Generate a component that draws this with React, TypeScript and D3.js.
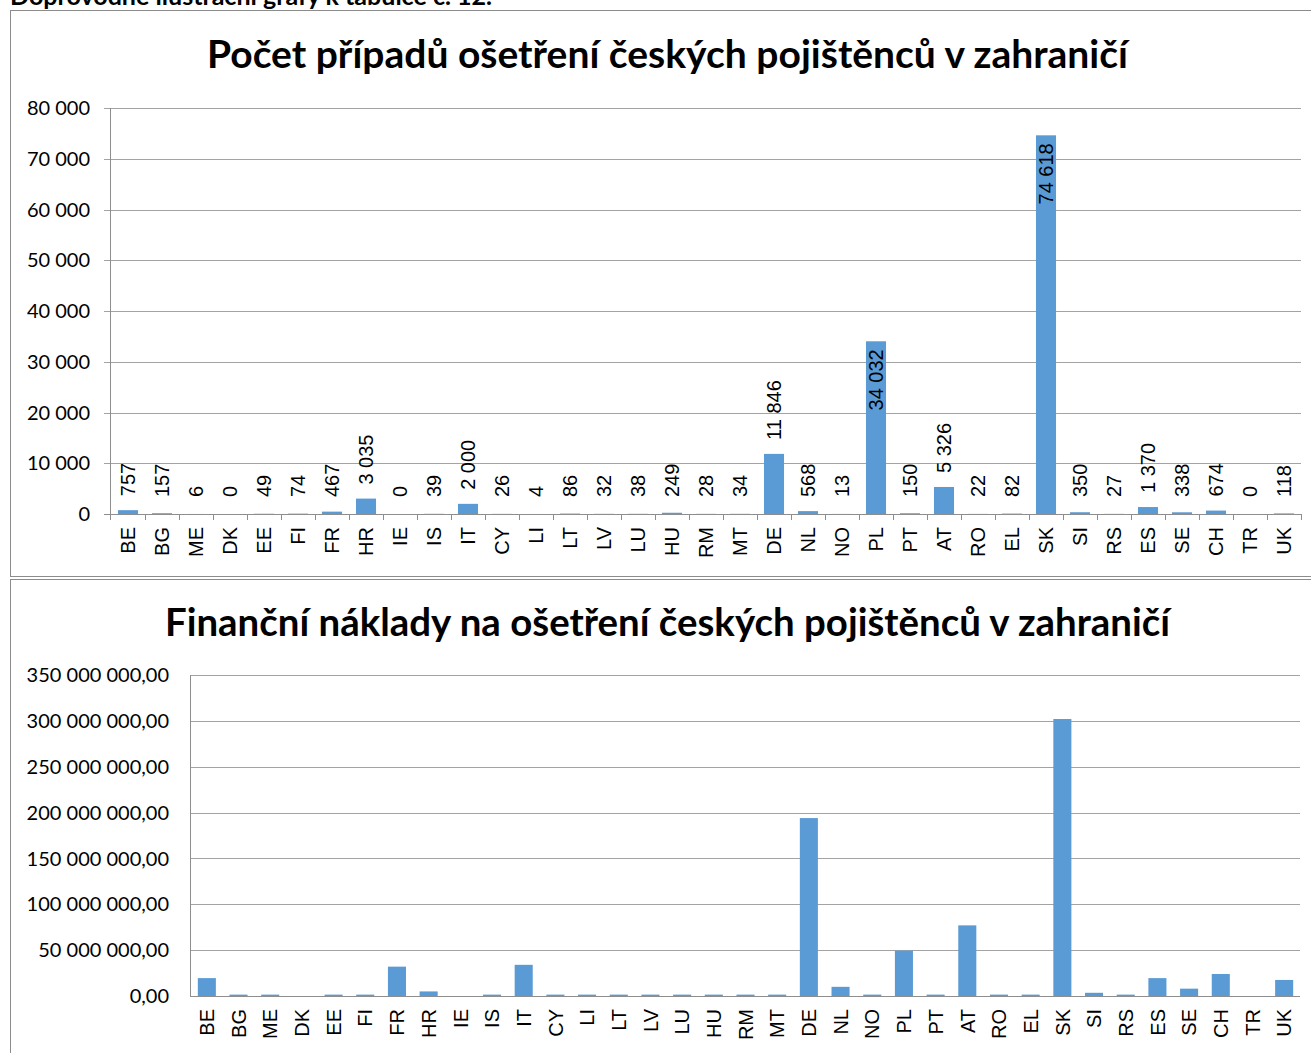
import React from "react";
import * as d3 from "d3";

const categories = ["BE","BG","ME","DK","EE","FI","FR","HR","IE","IS","IT","CY","LI","LT","LV","LU","HU","RM","MT","DE","NL","NO","PL","PT","AT","RO","EL","SK","SI","RS","ES","SE","CH","TR","UK"];

const caseCounts = [757,157,6,0,49,74,467,3035,0,39,2000,26,4,86,32,38,249,28,34,11846,568,13,34032,150,5326,22,82,74618,350,27,1370,338,674,0,118];

const costs = [19500000,1500000,1500000,0,1500000,1500000,32000000,5000000,0,1500000,34000000,1500000,1500000,1500000,1500000,1500000,1500000,1500000,1500000,194000000,10000000,1500000,49500000,1500000,77000000,1500000,1500000,302000000,3500000,1500000,19500000,8000000,24000000,0,17500000];

const countTicks = [0,10000,20000,30000,40000,50000,60000,70000,80000];
const costTicks = [0,50000000,100000000,150000000,200000000,250000000,300000000,350000000];

const headerText = "Doprovodné ilustrační grafy k tabulce č. 12.";
const title1 = "Počet případů ošetření českých pojištěnců v zahraničí";
const title2 = "Finanční náklady na ošetření českých pojištěnců v zahraničí";

const cz = d3.formatLocale({ decimal: ",", thousands: "\u00a0", grouping: [3], currency: ["", ""] });
const fmtInt = cz.format(",d");
const fmtDec = cz.format(",.2f");

const BAR = "#5b9bd5";
const GRID = "#a3a3a3";
const AXIS = "#8e8e8e";
const FRAME = "#8c8c8c";
const TITLE_FONT = "Lato, 'Open Sans', sans-serif";
const LABEL_FONT = "'Liberation Sans', Arial, sans-serif";

export default function App() {
  // ---- Top chart ----
  const x1 = d3.scaleBand<string>().domain(categories).range([111, 1301]).paddingInner(0.41).paddingOuter(0.205);
  const y1 = d3.scaleLinear().domain([0, 80000]).range([514, 108]);
  const step1 = x1.step();

  // ---- Bottom chart ----
  const x2 = d3.scaleBand<string>().domain(categories).range([191, 1300]).paddingInner(0.43).paddingOuter(0.215);
  const y2 = d3.scaleLinear().domain([0, 350000000]).range([996, 675]);

  return (
    <svg width={1311} height={1053} style={{ position: "absolute", left: 0, top: 0, background: "#fff" }}>
      <rect x={0} y={0} width={1311} height={1053} fill="#fff" />
      <text x={10} y={5} fontFamily={TITLE_FONT} fontWeight={700} fontSize={25} textLength={482} lengthAdjust="spacingAndGlyphs" fill="#000">{headerText}</text>

      {/* frames */}
      <rect x={10.5} y={10.5} width={1330} height={566} fill="none" stroke={FRAME} strokeWidth={1} />
      <rect x={10.5} y={579.5} width={1330} height={500} fill="none" stroke={FRAME} strokeWidth={1} />

      {/* ===== Top chart ===== */}
      <text x={207} y={68} fontFamily={TITLE_FONT} fontWeight={700} fontSize={39} textLength={921} lengthAdjust="spacingAndGlyphs" fill="#000">{title1}</text>
      {countTicks.map((t) => (
        <g key={"g1" + t}>
          <line x1={104} x2={1301} y1={Math.round(y1(t)) + 0.5} y2={Math.round(y1(t)) + 0.5} stroke={t === 0 ? AXIS : GRID} strokeWidth={1} />
          <text x={90} y={y1(t)} dy="0.36em" textAnchor="end" fontFamily={TITLE_FONT} fontSize={20} fill="#000">{fmtInt(t)}</text>
        </g>
      ))}
      <line x1={110.5} x2={110.5} y1={108} y2={520} stroke={AXIS} strokeWidth={1} />
      {categories.map((c) => {
        const bx = (x1(c) as number) - (step1 - x1.bandwidth()) / 2 + step1;
        return <line key={"tk" + c} x1={Math.round(bx) + 0.5} x2={Math.round(bx) + 0.5} y1={514} y2={520} stroke={AXIS} strokeWidth={1} />;
      })}
      {categories.map((c, i) => {
        const v = caseCounts[i];
        const x = x1(c) as number;
        const top = y1(v);
        return <rect key={"b1" + c} x={x} y={top} width={x1.bandwidth()} height={y1(0) - top} fill={BAR} />;
      })}
      {categories.map((c, i) => {
        const v = caseCounts[i];
        const cx = (x1(c) as number) + x1.bandwidth() / 2;
        const top = y1(v);
        const inside = v > 30000;
        const yy = inside ? top + 8 : Math.min(y1(0) - 17, top - 14);
        return (
          <text key={"l1" + c} transform={`translate(${cx},${yy}) rotate(-90)`} dy="0.36em" textAnchor={inside ? "end" : "start"} fontFamily={LABEL_FONT} fontSize={20} fill="#000">{fmtInt(v)}</text>
        );
      })}
      {categories.map((c) => {
        const cx = (x1(c) as number) + x1.bandwidth() / 2;
        return <text key={"c1" + c} transform={`translate(${cx},527) rotate(-90)`} dy="0.36em" textAnchor="end" fontFamily={LABEL_FONT} fontSize={20} fill="#000">{c}</text>;
      })}

      {/* ===== Bottom chart ===== */}
      <text x={165} y={636} fontFamily={TITLE_FONT} fontWeight={700} fontSize={39} textLength={1005} lengthAdjust="spacingAndGlyphs" fill="#000">{title2}</text>
      {costTicks.map((t) => (
        <g key={"g2" + t}>
          <line x1={190} x2={1300} y1={Math.round(y2(t)) + 0.5} y2={Math.round(y2(t)) + 0.5} stroke={t === 0 ? AXIS : GRID} strokeWidth={1} />
          <text x={169} y={y2(t)} dy="0.36em" textAnchor="end" fontFamily={TITLE_FONT} fontSize={20} fill="#000">{fmtDec(t)}</text>
        </g>
      ))}
      <line x1={190.5} x2={190.5} y1={675} y2={996} stroke={AXIS} strokeWidth={1} />
      {categories.map((c, i) => {
        const v = costs[i];
        const x = x2(c) as number;
        const top = y2(v);
        return <rect key={"b2" + c} x={x} y={top} width={x2.bandwidth()} height={y2(0) - top} fill={BAR} />;
      })}
      {categories.map((c) => {
        const cx = (x2(c) as number) + x2.bandwidth() / 2;
        return <text key={"c2" + c} transform={`translate(${cx},1009) rotate(-90)`} dy="0.36em" textAnchor="end" fontFamily={LABEL_FONT} fontSize={20} fill="#000">{c}</text>;
      })}
    </svg>
  );
}
